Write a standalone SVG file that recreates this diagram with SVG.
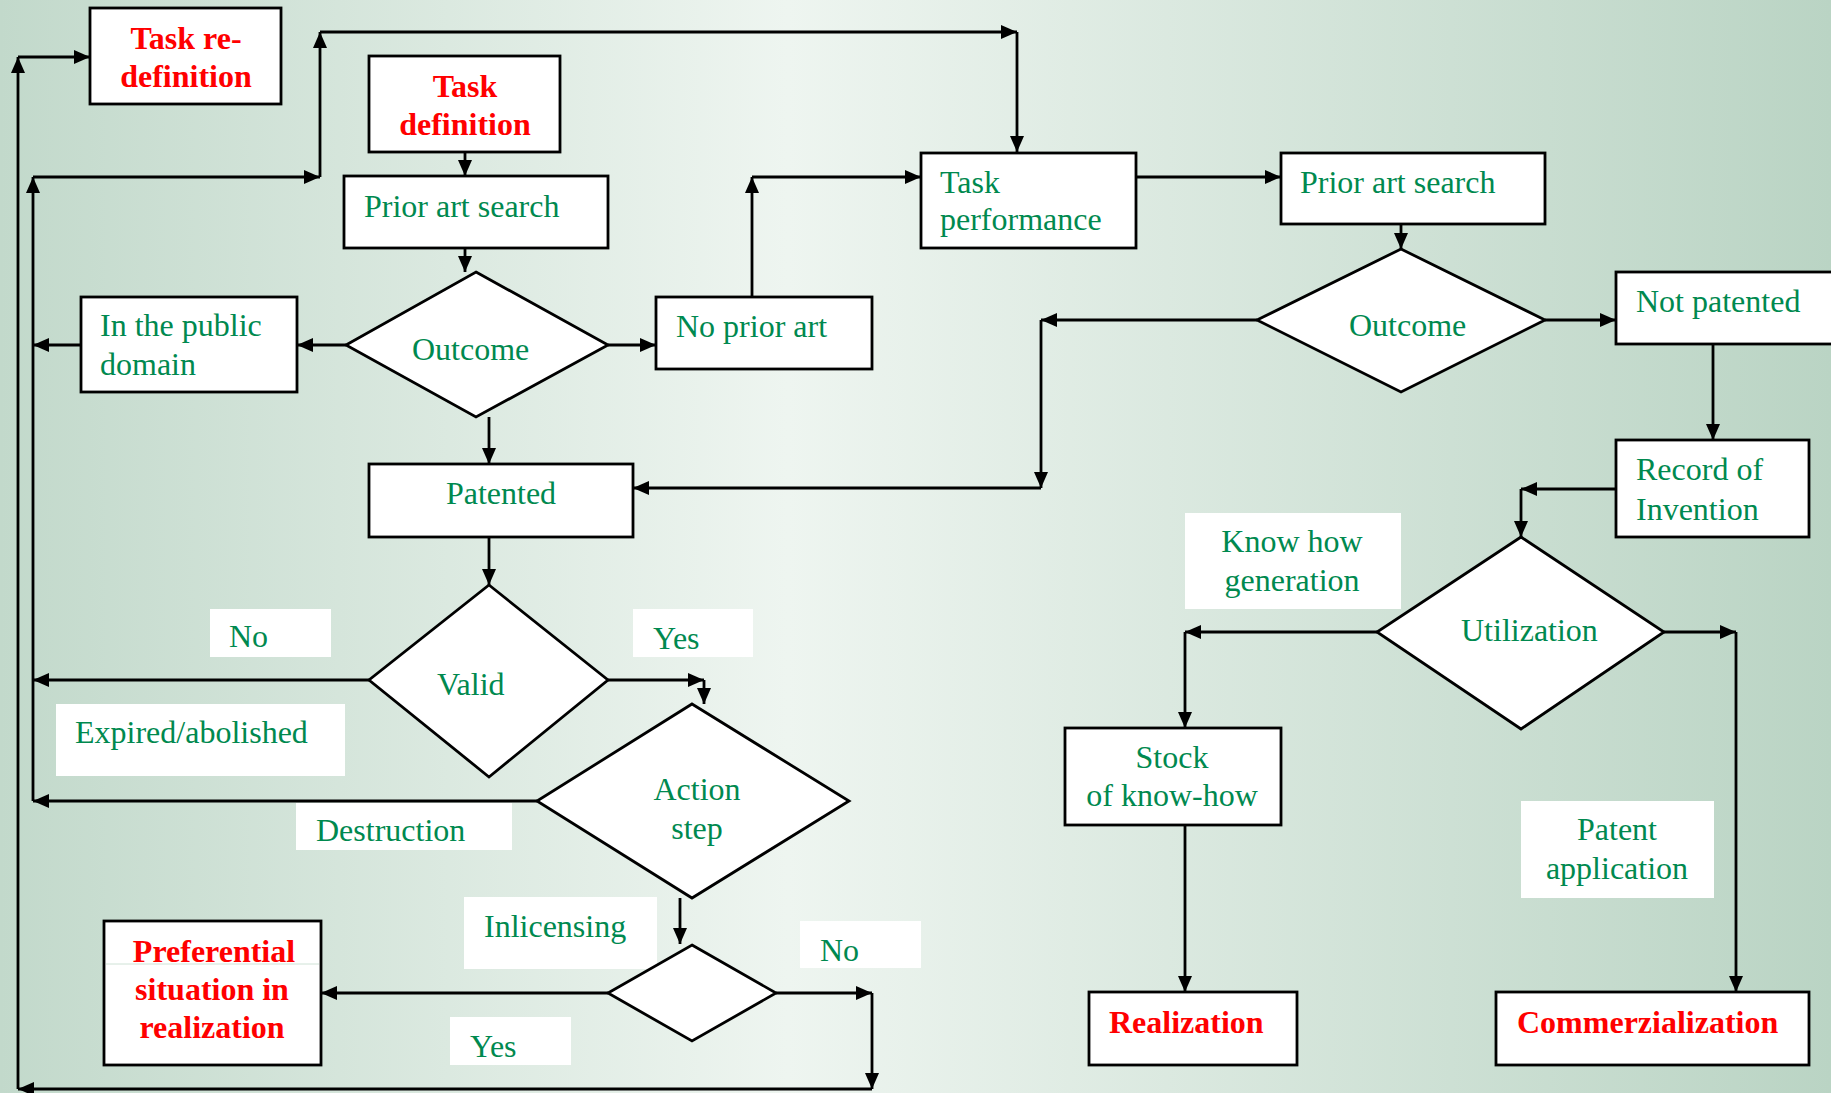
<svg xmlns="http://www.w3.org/2000/svg" width="1831" height="1093" viewBox="0 0 1831 1093">
  <defs>
    <linearGradient id="bg" x1="0" y1="0" x2="1" y2="0">
      <stop offset="0" stop-color="#c2d9cb"/>
      <stop offset="0.43" stop-color="#eef5f0"/>
      <stop offset="1" stop-color="#bad4c4"/>
    </linearGradient>
    <marker id="ah" markerUnits="userSpaceOnUse" markerWidth="16" markerHeight="14" refX="16" refY="7" orient="auto">
      <path d="M0,0 L16,7 L0,14 z" fill="#000"/>
    </marker>
    <style>
      .box { fill: #fff; stroke: #000; stroke-width: 2.8; }
      .lbl { fill: #fff; stroke: none; }
      .g { font-family: "Liberation Serif", "Times New Roman", serif; font-size: 32px; fill: #00894f; }
      .r { font-family: "Liberation Serif", "Times New Roman", serif; font-size: 32px; font-weight: bold; fill: #ff0000; }
      .c { text-anchor: middle; }
      .ln { fill: none; stroke: #000; stroke-width: 2.8; marker-end: url(#ah); }
    </style>
  </defs>
  <rect x="0" y="0" width="1831" height="1093" fill="url(#bg)"/>

  <!-- edge labels -->
  <g id="labels">
    <g id="lbl-no1"><rect class="lbl" x="210" y="609" width="121" height="48"/><text class="g" x="229" y="647">No</text></g>
    <g id="lbl-yes1"><rect class="lbl" x="633" y="609" width="120" height="48"/><text class="g" x="653" y="649">Yes</text></g>
    <g id="lbl-expired"><rect class="lbl" x="56" y="704" width="289" height="72"/><text class="g" x="75" y="743">Expired/abolished</text></g>
    <g id="lbl-destruction"><rect class="lbl" x="296" y="803" width="216" height="47"/><text class="g" x="316" y="841">Destruction</text></g>
    <g id="lbl-inlicensing"><rect class="lbl" x="464" y="897" width="193" height="72"/><text class="g" x="484" y="937">Inlicensing</text></g>
    <g id="lbl-no2"><rect class="lbl" x="800" y="921" width="121" height="47"/><text class="g" x="820" y="961">No</text></g>
    <g id="lbl-yes2"><rect class="lbl" x="450" y="1017" width="121" height="48"/><text class="g" x="470" y="1057">Yes</text></g>
    <g id="lbl-knowhow"><rect class="lbl" x="1185" y="513" width="216" height="96"/><text class="g c" x="1292" y="552">Know how</text><text class="g c" x="1292" y="591">generation</text></g>
    <g id="lbl-patentapp"><rect class="lbl" x="1521" y="801" width="193" height="97"/><text class="g c" x="1617" y="840">Patent</text><text class="g c" x="1617" y="879">application</text></g>
  </g>

  <!-- connectors -->
  <g id="connectors">
    <!-- outer loop -->
    <path class="ln" d="M776,993 L872,993"/>
    <path class="ln" d="M872,993 L872,1089"/>
    <path class="ln" d="M872,1089 L18,1089"/>
    <path class="ln" d="M18,1089 L18,57"/>
    <path class="ln" d="M18,57 L90,57"/>
    <!-- inner loop -->
    <path class="ln" d="M81,345 L33,345"/>
    <path class="ln" d="M369,680 L33,680"/>
    <path class="ln" d="M537,801 L33,801"/>
    <path class="ln" d="M33,801 L33,177"/>
    <path class="ln" d="M33,177 L320,177"/>
    <path class="ln" d="M320,177 L320,32"/>
    <path class="ln" d="M320,32 L1017,32"/>
    <path class="ln" d="M1017,32 L1017,152"/>
    <!-- main flow -->
    <path class="ln" d="M465,152 L465,176"/>
    <path class="ln" d="M465,225 L465,272"/>
    <path class="ln" d="M346,345 L297,345"/>
    <path class="ln" d="M608,345 L656,345"/>
    <path class="ln" d="M752,297 L752,177"/>
    <path class="ln" d="M752,177 L921,177"/>
    <path class="ln" d="M489,417 L489,464"/>
    <path class="ln" d="M489,537 L489,585"/>
    <path class="ln" d="M608,680 L704,680"/>
    <path class="ln" d="M704,680 L704,704"/>
    <path class="ln" d="M680,898 L680,944"/>
    <path class="ln" d="M608,993 L321,993"/>
    <path class="ln" d="M1136,177 L1281,177"/>
    <path class="ln" d="M1401,224 L1401,249"/>
    <path class="ln" d="M1545,320 L1616,320"/>
    <path class="ln" d="M1257,320 L1041,320"/>
    <path class="ln" d="M1041,320 L1041,488"/>
    <path class="ln" d="M1041,488 L633,488"/>
    <path class="ln" d="M1713,345 L1713,440"/>
    <path class="ln" d="M1616,489 L1521,489"/>
    <path class="ln" d="M1521,489 L1521,537"/>
    <path class="ln" d="M1377,632 L1185,632"/>
    <path class="ln" d="M1185,632 L1185,728"/>
    <path class="ln" d="M1185,825 L1185,992"/>
    <path class="ln" d="M1664,632 L1736,632"/>
    <path class="ln" d="M1736,632 L1736,992"/>
  </g>

  <!-- nodes -->
  <g id="task-redefinition"><rect class="box" x="90" y="8" width="191" height="96"/><text class="r c" x="186" y="49">Task re-</text><text class="r c" x="186" y="87">definition</text></g>
  <g id="task-definition"><rect class="box" x="369" y="56" width="191" height="96"/><text class="r c" x="465" y="97">Task</text><text class="r c" x="465" y="135">definition</text></g>
  <g id="prior-art-1"><rect class="box" x="344" y="176" width="264" height="72"/><text class="g" x="364" y="217">Prior art search</text></g>
  <g id="outcome-1"><polygon class="box" points="476,272 608,345 476,417 346,345"/><text class="g" x="412" y="360">Outcome</text></g>
  <g id="public-domain"><rect class="box" x="81" y="297" width="216" height="95"/><text class="g" x="100" y="336">In the public</text><text class="g" x="100" y="375">domain</text></g>
  <g id="no-prior-art"><rect class="box" x="656" y="297" width="216" height="72"/><text class="g" x="676" y="337">No prior art</text></g>
  <g id="task-performance"><rect class="box" x="921" y="153" width="215" height="95"/><text class="g" x="940" y="193">Task</text><text class="g" x="940" y="230">performance</text></g>
  <g id="prior-art-2"><rect class="box" x="1281" y="153" width="264" height="71"/><text class="g" x="1300" y="193">Prior art search</text></g>
  <g id="outcome-2"><polygon class="box" points="1401,249 1545,320 1401,392 1257,320"/><text class="g" x="1349" y="336">Outcome</text></g>
  <g id="not-patented"><rect class="box" x="1616" y="272" width="230" height="72"/><text class="g" x="1636" y="312">Not patented</text></g>
  <g id="record-invention"><rect class="box" x="1616" y="440" width="193" height="97"/><text class="g" x="1636" y="480">Record of</text><text class="g" x="1636" y="520">Invention</text></g>
  <g id="patented"><rect class="box" x="369" y="464" width="264" height="73"/><text class="g c" x="501" y="504">Patented</text></g>
  <g id="valid"><polygon class="box" points="489,585 608,680 489,777 369,680"/><text class="g" x="437" y="695">Valid</text></g>
  <g id="action-step"><polygon class="box" points="692,704 849,801 692,898 537,801"/><text class="g c" x="697" y="800">Action</text><text class="g c" x="697" y="839">step</text></g>
  <g id="inlicensing-decision"><polygon class="box" points="692,945 776,993 692,1041 608,993"/></g>
  <g id="preferential"><rect class="box" x="104" y="921" width="217" height="144"/><line x1="106" y1="964" x2="319" y2="964" stroke="#cfe2d6" stroke-width="1"/><text class="r c" x="214" y="962">Preferential</text><text class="r c" x="212" y="1000">situation in</text><text class="r c" x="212" y="1038">realization</text></g>
  <g id="utilization"><polygon class="box" points="1521,537 1664,632 1521,729 1377,632"/><text class="g" x="1461" y="641">Utilization</text></g>
  <g id="stock-knowhow"><rect class="box" x="1065" y="728" width="216" height="97"/><text class="g c" x="1172" y="768">Stock</text><text class="g c" x="1172" y="806">of know-how</text></g>
  <g id="realization"><rect class="box" x="1089" y="992" width="208" height="73"/><text class="r" x="1109" y="1033">Realization</text></g>
  <g id="commerzialization"><rect class="box" x="1496" y="992" width="313" height="73"/><text class="r" x="1517" y="1033">Commerzialization</text></g>
</svg>
